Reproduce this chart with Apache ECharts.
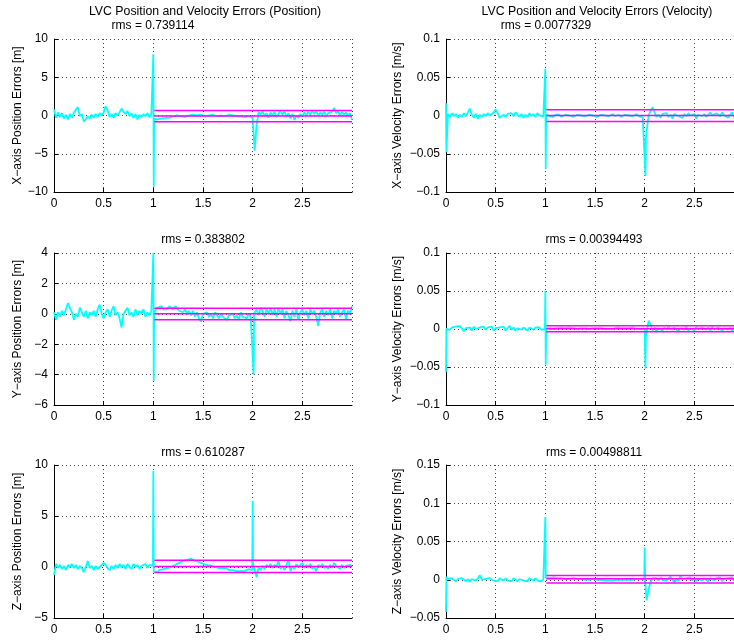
<!DOCTYPE html>
<html>
<head>
<meta charset="utf-8">
<script src="https://cdn.jsdelivr.net/npm/echarts@6/dist/echarts.min.js"></script>
<style>
  html, body { margin: 0; padding: 0; background: #fff; overflow: hidden; }
  #chart { width: 752px; height: 640px; }
</style>
</head>
<body>
<div id="chart"></div>
<script>
// samples are 0.02 s apart, starting at t = 0; the spikes get a few extra points
const sampleStep = 0.02;

const xPosErr = [
  0.8,-0.3,0.4,-0.2,0.3,-0.4,0.1,-0.5,0.2,-0.3,
  0.4,0.3,1.1,-0.1,0.2,-0.8,-0.5,-0.1,-0.4,0.1,
  -0.3,0.2,-0.2,0.3,0.0,0.4,1.2,0.7,-0.2,0.2,
  -0.3,0.3,0.0,0.4,0.9,0.5,0.2,0.6,-0.1,0.3,
  -0.3,0.2,-0.5,0.1,-0.2,0.2,-0.1,0.3,-0.2,0.2,
  8.0,-0.3,-0.5,-0.3,-0.4,-0.2,-0.3,-0.1,-0.3,-0.2,
  -0.1,-0.2,0.0,-0.2,-0.1,0.0,-0.2,-0.1,0.0,-0.1,
  0.1,-0.1,0.0,-0.2,0.1,0.0,-0.1,0.1,0.0,-0.1,
  0.1,0.0,-0.1,0.1,0.0,0.1,-0.1,0.0,0.1,-0.1,
  0.0,0.1,-0.1,0.0,-0.1,0.0,-0.2,0.0,-0.1,0.0,
  -0.3,-4.6,-1.2,0.5,0.1,0.6,-0.1,0.3,-0.3,0.4,
  0.0,0.5,-0.2,0.2,0.7,0.1,0.6,-0.2,0.3,-0.4,
  0.2,-0.6,0.0,-0.3,0.2,-0.1,0.4,0.0,0.5,0.1,
  0.7,0.2,0.6,0.0,0.4,0.1,0.5,-0.1,0.3,0.2,
  0.5,1.0,0.3,0.6,0.0,0.5,0.1,0.4,0.0,0.3,
  -0.6
];
const xPosExtra = [[0.996, 0.2], [1.004, -9.3], [1.008, -0.4]];
const xPosBand = [0.66, -0.08, -0.83];

const xVelErr = [
  0.016,0.002,-0.002,0.003,-0.001,0.002,-0.003,0.001,-0.002,0.003,
  -0.001,0.004,0.009,0.001,-0.003,0.002,-0.004,0.001,-0.002,0.002,
  -0.001,0.003,0.000,-0.002,0.004,0.008,0.003,-0.003,-0.005,0.001,
  -0.002,0.002,0.000,0.003,-0.001,0.004,0.001,-0.002,0.002,-0.003,
  0.001,-0.002,0.003,-0.001,0.002,-0.002,0.003,0.000,0.002,-0.001,
  0.061,0.002,-0.001,0.000,-0.002,0.001,-0.001,0.001,-0.002,0.000,
  0.001,-0.001,0.000,0.001,-0.002,0.000,0.001,-0.001,0.000,0.002,
  -0.001,0.000,0.001,-0.001,0.000,0.001,-0.002,0.000,0.001,-0.001,
  0.000,0.001,-0.001,0.000,0.002,-0.001,0.000,0.001,-0.002,0.000,
  0.001,-0.001,0.000,0.001,-0.001,0.000,0.002,-0.001,0.000,-0.002,
  0.000,-0.020,0.000,0.006,0.011,0.004,-0.002,0.001,-0.003,0.002,
  0.000,0.003,-0.002,0.001,-0.004,0.002,0.004,-0.001,0.001,-0.003,
  0.002,-0.001,0.003,0.000,-0.002,0.002,-0.004,0.001,0.003,-0.001,
  0.002,-0.002,0.001,0.004,0.000,-0.002,0.003,0.001,-0.001,0.004,
  0.000,0.002,-0.003,0.001,0.004,-0.002,0.003,-0.001,0.002,0.000,
  0.001
];
const xVelExtra = [[0.004, -0.048], [0.996, 0.000], [1.004, -0.070], [1.008, 0.001],
  [2.004, 0.000], [2.008, -0.079], [2.012, -0.030]];
const xVelBand = [0.0075, 0.0, -0.0078];

const yPosErr = [
  0.1,-0.4,0.1,-0.2,0.2,-0.1,0.3,0.7,0.4,0.1,
  -0.4,0.0,-0.2,0.4,0.1,-0.2,0.2,-0.3,0.1,-0.1,
  0.2,-0.2,0.3,0.6,0.0,-0.3,0.1,0.3,-0.2,0.2,
  0.5,-0.1,0.1,-0.3,-0.9,0.0,0.2,0.4,-0.1,0.1,
  -0.2,0.3,-0.1,0.2,0.0,0.3,-0.2,0.1,-0.1,0.2,
  4.0,0.2,0.4,0.3,0.5,0.3,0.4,0.3,0.5,0.4,
  0.3,0.5,0.4,0.2,0.3,0.1,0.3,0.0,0.2,-0.1,
  0.2,-0.2,0.1,-0.3,-0.5,0.0,-0.1,0.1,-0.2,0.0,
  -0.3,0.1,-0.1,-0.3,0.0,-0.2,-0.1,-0.4,-0.1,-0.2,
  0.0,-0.3,-0.1,-0.4,0.1,-0.2,-0.1,-0.3,0.0,-0.2,
  -0.1,0.1,0.3,-0.1,0.4,0.2,-0.2,0.3,0.0,0.4,
  -0.1,0.3,-0.2,0.4,0.0,0.3,-0.3,0.2,-0.1,-0.5,
  0.2,-0.2,0.3,-0.4,0.1,0.3,-0.1,0.2,-0.3,0.3,
  0.0,0.2,-0.2,-0.8,0.1,0.3,-0.2,0.2,-0.1,0.3,
  -0.3,0.2,0.0,0.3,-0.2,0.1,0.3,-0.4,0.2,0.0,
  0.5
];
const yPosExtra = [[0.996, 0.1], [1.004, -4.4], [1.008, 0.1],
  [2.006, -0.1], [2.01, -4.0], [2.014, 0.0]];
const yPosBand = [0.37, 0.0, -0.39];

const yVelErr = [
  -0.057,0.001,-0.001,0.002,0.000,0.003,0.001,0.004,0.005,-0.003,
  0.001,-0.001,0.002,-0.002,0.003,0.000,-0.002,0.002,0.000,0.003,
  -0.001,0.002,0.000,0.003,-0.002,0.001,-0.001,0.002,0.000,0.003,
  -0.002,0.001,0.004,-0.001,0.002,-0.002,0.001,0.003,-0.001,0.002,
  0.000,-0.002,0.002,0.001,-0.001,0.002,0.000,0.002,-0.001,0.001,
  0.050,0.002,0.001,0.001,0.000,0.002,0.001,0.001,0.002,0.000,
  0.001,0.001,0.002,0.000,0.001,0.001,0.000,0.002,0.001,0.000,
  0.001,0.001,0.000,0.002,0.001,0.000,0.001,0.000,0.001,0.002,
  0.000,0.001,0.000,0.001,0.000,0.001,0.002,0.000,0.001,0.000,
  0.001,0.000,0.001,0.000,0.002,0.001,0.000,0.001,0.000,0.001,
  0.000,-0.004,0.011,0.005,-0.002,0.002,-0.003,0.001,0.002,-0.002,
  0.002,-0.001,0.003,0.000,-0.002,0.002,0.000,-0.003,0.001,0.002,
  -0.001,0.003,-0.002,0.001,0.002,-0.002,0.003,0.000,-0.002,0.002,
  0.003,-0.001,0.002,-0.002,0.003,0.000,-0.001,0.002,0.003,-0.002,
  0.001,0.003,-0.001,0.002,-0.002,0.003,0.000,0.002,-0.001,0.002,
  0.000
];
const yVelExtra = [[0.004, 0.000], [0.996, 0.000], [1.004, -0.047], [1.008, 0.001],
  [2.004, 0.000], [2.008, -0.052], [2.012, -0.010]];
const yVelBand = [0.0044, 0.0004, -0.0036];

const zPosErr = [
  -0.8,0.3,-0.1,0.2,-0.2,0.1,-0.3,0.2,0.0,0.3,
  -0.1,0.2,-0.2,0.1,-0.1,-0.5,0.0,0.6,-0.1,0.1,
  -0.3,0.1,-0.2,0.0,-0.1,0.4,0.2,-0.1,-0.3,0.1,
  -0.2,0.2,-0.1,0.3,0.0,0.2,-0.2,0.3,0.0,-0.2,
  0.3,0.0,0.2,-0.2,0.1,0.0,0.3,-0.1,0.2,0.1,
  9.4,-0.4,-0.5,-0.3,-0.4,-0.2,-0.3,-0.1,-0.2,0.0,
  0.1,0.2,0.3,0.4,0.5,0.6,0.7,0.7,0.8,0.8,
  0.7,0.6,0.7,0.5,0.4,0.3,0.4,0.2,0.3,0.1,
  0.2,0.0,0.1,-0.1,0.0,-0.1,-0.2,-0.1,-0.3,-0.2,
  -0.3,-0.3,-0.4,-0.3,-0.4,-0.3,-0.4,-0.3,-0.2,-0.3,
  6.5,0.2,-1.0,0.0,-0.3,0.1,-0.2,0.2,0.0,0.3,
  -0.1,0.2,0.0,0.6,-0.2,0.1,-0.3,0.2,0.7,-0.4,
  0.1,-0.2,0.3,0.0,0.2,0.4,-0.1,0.2,0.0,0.3,
  -0.2,0.1,-0.4,0.2,0.0,0.3,-0.1,0.1,-0.2,0.2,
  -0.1,0.4,0.1,0.0,-0.2,0.2,-0.1,0.1,0.0,0.2,
  0.0
];
const zPosExtra = [[0.996, 0.1], [1.004, -0.5], [1.996, -0.3], [2.004, 0.3]];
const zPosBand = [0.66, 0.06, -0.55];

const zVelErr = [
  -0.042,0.001,-0.001,0.002,0.000,-0.002,0.001,-0.001,0.002,0.000,
  -0.002,0.001,-0.003,0.001,0.000,-0.001,0.002,0.006,0.000,-0.002,
  0.001,-0.001,0.002,0.003,-0.001,0.001,-0.002,0.002,0.000,-0.001,
  0.002,-0.001,0.001,-0.002,0.002,0.000,-0.002,0.001,0.002,-0.001,
  0.001,-0.002,0.002,0.000,-0.001,0.002,-0.001,0.001,-0.002,0.001,
  0.082,0.003,0.002,0.002,0.003,0.002,0.002,0.001,0.002,0.002,
  0.001,0.002,0.001,0.001,0.002,0.001,0.001,0.000,0.001,0.001,
  0.000,0.001,0.000,0.000,0.001,0.000,0.000,-0.001,0.000,0.000,
  -0.001,0.000,-0.001,0.000,-0.001,-0.001,0.000,-0.001,0.000,-0.001,
  0.000,-0.001,0.000,0.001,0.000,0.000,0.001,0.000,0.001,0.000,
  0.042,-0.027,-0.012,-0.003,0.002,0.000,0.002,-0.001,0.003,0.000,
  0.002,-0.001,0.001,0.004,0.000,-0.004,0.001,-0.002,0.005,0.001,
  -0.001,0.002,0.000,0.003,-0.001,0.002,-0.002,0.001,0.003,-0.001,
  0.002,0.000,-0.002,0.002,0.001,-0.001,0.002,0.000,0.003,-0.002,
  0.001,-0.001,0.002,0.000,0.003,-0.001,0.002,0.000,-0.002,0.002,
  0.000
];
const zVelExtra = [[0.004, 0.004], [0.996, 0.000], [1.004, 0.003], [1.996, 0.000], [2.006, -0.004]];
const zVelBand = [0.0055, 0.0013, -0.0044];

const bandStart = 1.01;
const bandEnd = 3.0;

const xTickLabels = ['0', '0.5', '1', '1.5', '2', '2.5'];

const panels = [
  { values: xPosErr, extra: xPosExtra, band: xPosBand, name: 'X\u2212axis Position Errors [m]',
    min: -10, max: 10, interval: 5, left: 54, top: 39, height: 153, gap: 30,
    title: 'rms = 0.739114', tx: 153, ty: 26 },
  { values: xVelErr, extra: xVelExtra, band: xVelBand, name: 'X\u2212axis Velocity Errors [m/s]',
    min: -0.1, max: 0.1, interval: 0.05, left: 446, top: 39, height: 153, gap: 42,
    title: 'rms = 0.0077329', tx: 546, ty: 26 },
  { values: yPosErr, extra: yPosExtra, band: yPosBand, name: 'Y\u2212axis Position Errors [m]',
    min: -6, max: 4, interval: 2, left: 54, top: 253, height: 152, gap: 30,
    title: 'rms = 0.383802', tx: 203, ty: 240 },
  { values: yVelErr, extra: yVelExtra, band: yVelBand, name: 'Y\u2212axis Velocity Errors [m/s]',
    min: -0.1, max: 0.1, interval: 0.05, left: 446, top: 253, height: 152, gap: 42,
    title: 'rms = 0.00394493', tx: 594, ty: 240 },
  { values: zPosErr, extra: zPosExtra, band: zPosBand, name: 'Z\u2212axis Position Errors [m]',
    min: -5, max: 10, interval: 5, left: 54, top: 465, height: 153, gap: 30,
    title: 'rms = 0.610287', tx: 203, ty: 453 },
  { values: zVelErr, extra: zVelExtra, band: zVelBand, name: 'Z\u2212axis Velocity Errors [m/s]',
    min: -0.05, max: 0.15, interval: 0.05, left: 446, top: 465, height: 153, gap: 42,
    title: 'rms = 0.00498811', tx: 594, ty: 453 }
];

const font = 'Liberation Sans, Arial, Helvetica, sans-serif';

function toPoints(values, extra) {
  const pts = values.map((v, i) => [+(i * sampleStep).toFixed(3), v]).concat(extra);
  pts.sort((a, b) => a[0] - b[0]);
  return pts;
}

function fmtNum(v) {
  const s = String(Math.round(v * 10000) / 10000);
  return s.replace('-', '\u2212');
}

const grids = [], xAxes = [], yAxes = [], series = [];
const graphics = [
  { type: 'text', x: 205, y: 12, style: { text: 'LVC Position and Velocity Errors (Position)',
    font: '12.3px ' + font, fill: '#000', textAlign: 'center', textVerticalAlign: 'middle' } },
  { type: 'text', x: 597, y: 12, style: { text: 'LVC Position and Velocity Errors (Velocity)',
    font: '12.3px ' + font, fill: '#000', textAlign: 'center', textVerticalAlign: 'middle' } }
];

panels.forEach((p, k) => {
  grids.push({ left: p.left, top: p.top, width: 298, height: p.height });
  xAxes.push({
    gridIndex: k, type: 'value', min: 0, max: 3, interval: 0.5,
    axisLine: { onZero: false, lineStyle: { color: '#000', width: 1 } },
    axisTick: { inside: true, length: 4, lineStyle: { color: '#000' } },
    axisLabel: { color: '#000', fontSize: 12, fontFamily: font, margin: 6, showMaxLabel: false,
      formatter: v => xTickLabels[Math.round(v / 0.5)] || '' },
    splitLine: { show: true, lineStyle: { color: '#444', width: 1, type: [1, 3] } }
  });
  yAxes.push({
    gridIndex: k, type: 'value', min: p.min, max: p.max, interval: p.interval,
    name: p.name, nameLocation: 'middle', nameGap: p.gap,
    nameTextStyle: { color: '#000', fontSize: 12, fontFamily: font },
    axisLine: { onZero: false, lineStyle: { color: '#000', width: 1 } },
    axisTick: { inside: true, length: 4, lineStyle: { color: '#000' } },
    axisLabel: { color: '#000', fontSize: 12, fontFamily: font, margin: 6, formatter: fmtNum },
    splitLine: { show: true, lineStyle: { color: '#444', width: 1, type: [1, 3] } }
  });
  series.push({
    type: 'line', xAxisIndex: k, yAxisIndex: k, data: toPoints(p.values, p.extra),
    showSymbol: false, lineStyle: { color: '#00FFFF', width: 1.8 }, itemStyle: { color: '#00FFFF' },
    animation: false, silent: true, z: 2
  });
  p.band.forEach(b => {
    series.push({
      type: 'line', xAxisIndex: k, yAxisIndex: k, data: [[bandStart, b], [bandEnd, b]],
      showSymbol: false, lineStyle: { color: '#FF00FF', width: 1.5 }, itemStyle: { color: '#FF00FF' },
      animation: false, silent: true, z: 3
    });
  });
  graphics.push({ type: 'text', x: p.tx, y: p.ty, style: { text: p.title,
    font: '12px ' + font, fill: '#000', textAlign: 'center', textVerticalAlign: 'middle' } });
});

const chart = echarts.init(document.getElementById('chart'));
chart.setOption({
  backgroundColor: '#fff',
  animation: false,
  grid: grids,
  xAxis: xAxes,
  yAxis: yAxes,
  series: series,
  graphic: graphics
});
</script>
</body>
</html>
